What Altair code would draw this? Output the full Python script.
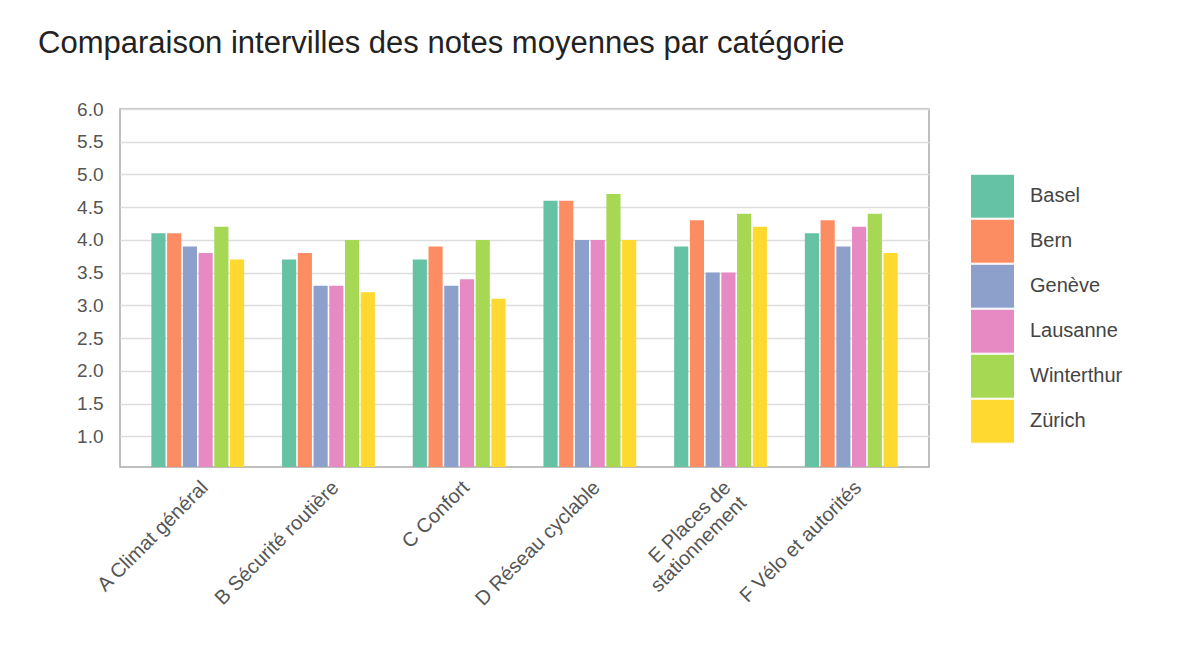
import altair as alt
import pandas as pd

categories = ["A Climat général", "B Sécurité routière", "C Confort",
              "D Réseau cyclable", "E Places de stationnement", "F Vélo et autorités"]
cities = ["Basel", "Bern", "Genève", "Lausanne", "Winterthur", "Zürich"]
basel = [4.1, 3.7, 3.7, 4.6, 3.9, 4.1]
bern = [4.1, 3.8, 3.9, 4.6, 4.3, 4.3]
geneve = [3.9, 3.3, 3.3, 4.0, 3.5, 3.9]
lausanne = [3.8, 3.3, 3.4, 4.0, 3.5, 4.2]
winterthur = [4.2, 4.0, 4.0, 4.7, 4.4, 4.4]
zurich = [3.7, 3.2, 3.1, 4.0, 4.2, 3.8]
colors = ["#66c2a5", "#fc8d62", "#8da0cb", "#e78ac3", "#a6d854", "#ffd92f"]
y_ticks = [1.0, 1.5, 2.0, 2.5, 3.0, 3.5, 4.0, 4.5, 5.0, 5.5, 6.0]

series = [basel, bern, geneve, lausanne, winterthur, zurich]
rows = []
for city, vals in zip(cities, series):
    for cat, v in zip(categories, vals):
        rows.append({"cat": cat, "city": city, "value": v})
df = pd.DataFrame(rows)

font = "Liberation Sans"

chart = alt.Chart(df).mark_bar(clip=True).encode(
    x=alt.X("cat:N", sort=categories, title=None,
            scale=alt.Scale(paddingInner=0.29, paddingOuter=0.24),
            axis=alt.Axis(labelAngle=315, labelFontSize=20, labelColor="#555",
                          labelFont=font, ticks=False, domain=False, labelPadding=10,
                          labelLimit=300,
                          labelExpr="datum.label == 'E Places de stationnement' ? ['E Places de', 'stationnement'] : datum.label")),
    xOffset=alt.XOffset("city:N", sort=cities, scale=alt.Scale(paddingInner=0.1, paddingOuter=0)),
    y=alt.Y("value:Q", title=None,
            scale=alt.Scale(domain=[0.53, 6.0], nice=False, zero=False),
            axis=alt.Axis(values=y_ticks, format=".1f", labelFontSize=19, labelColor="#555",
                          labelFont=font, ticks=False, domain=False, labelPadding=17,
                          minExtent=82, gridColor="#dddddd", gridWidth=1.5)),
    color=alt.Color("city:N", sort=cities, scale=alt.Scale(domain=cities, range=colors),
                    legend=alt.Legend(title=None, orient="none", legendX=850, legendY=65,
                                      symbolType="square", symbolSize=1936, symbolOpacity=1,
                                      symbolStrokeColor="white", symbolStrokeWidth=1,
                                      labelFontSize=20, labelColor="#444", labelFont=font,
                                      labelOffset=15, rowPadding=0, clipHeight=44.4,
                                      padding=0)),
).properties(
    width=809, height=358,
    title=alt.TitleParams("Comparaison intervilles des notes moyennes par catégorie",
                          anchor="start", frame="bounds", fontSize=31, fontWeight="normal",
                          font=font, color="#222", offset=40),
    padding={"left": 30, "top": 20, "right": 20, "bottom": 10},
).configure_view(stroke="#aaaaaa", strokeWidth=1.5)

chart.save("out.html", embed_options={"renderer": "svg", "actions": False})
